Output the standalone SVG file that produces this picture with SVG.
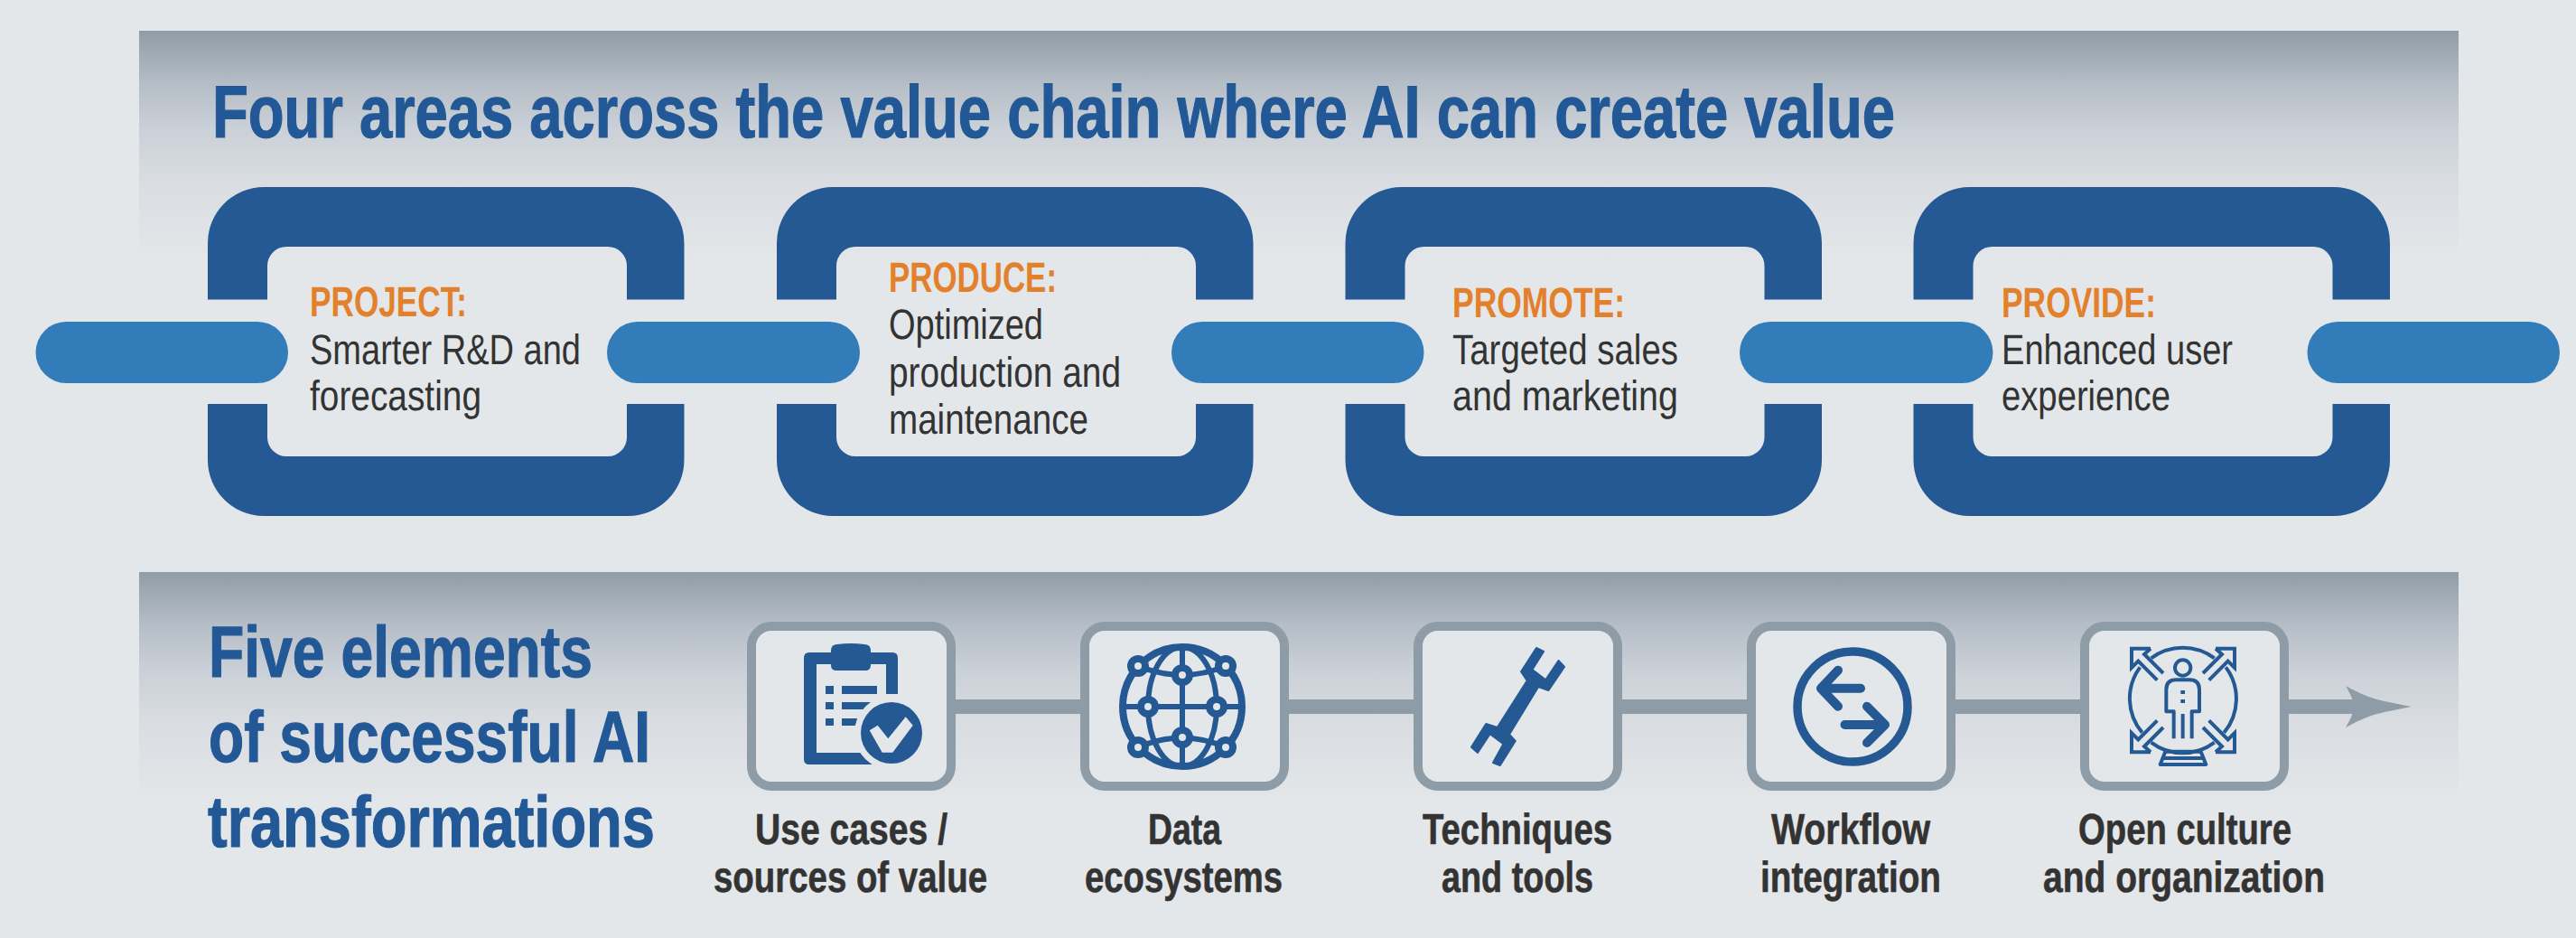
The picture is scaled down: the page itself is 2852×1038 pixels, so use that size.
<svg xmlns="http://www.w3.org/2000/svg" xmlns:xlink="http://www.w3.org/1999/xlink" width="2852" height="1038" viewBox="0 0 2852 1038">
<style>
text{font-family:"Liberation Sans",Arial,sans-serif;text-rendering:geometricPrecision}
.h1{font-size:82px;font-weight:700;fill:#225896;stroke:#225896;stroke-width:1.2px}
.h2{font-size:80px;font-weight:700;fill:#225896;stroke:#225896;stroke-width:1.2px}
.tag{font-size:47px;font-weight:700;fill:#e3802b}
.body{font-size:47px;fill:#333333}
.lab{font-size:48px;font-weight:700;fill:#333333;stroke:#333333;stroke-width:.6px}
.ring{fill:#245994}
.link{fill:#317cb9}
.box{fill:#e3e7ea;stroke:#8d9ca6;stroke-width:10}
.line{stroke:#8d9ca6;stroke-width:16;fill:none}
.ic{fill:#245994}
.bg{fill:#e3e7ea}
.st{fill:none;stroke:#245994}
</style>
<defs>
<linearGradient id="fade" x1="0" y1="0" x2="0" y2="1">
<stop offset="0" stop-color="#8f9da7"/>
<stop offset="0.22" stop-color="#b4bcc5"/>
<stop offset="0.42" stop-color="#cad0d7"/>
<stop offset="0.65" stop-color="#d9dde1"/>
<stop offset="1" stop-color="#e3e7ea"/>
</linearGradient>
<path id="chain" d="M230 331.500V269A62 62 0 0 1 292 207H695.500A62 62 0 0 1 757.500 269V331.500H694V294A21 21 0 0 0 673 273H317A21 21 0 0 0 296 294V331.500ZM230 447V509A62 62 0 0 0 292 571H695.500A62 62 0 0 0 757.500 509V447H694V484A21 21 0 0 1 673 505H317A21 21 0 0 1 296 484V447Z"/>
<marker id="head" markerUnits="userSpaceOnUse" viewBox="0 0 73 46" markerWidth="73" markerHeight="46" refX="9" refY="23" orient="auto">
<path d="M0 0Q23 13 43 17L72.500 23L43 29Q23 33 0 46Q9 31 9 23Q9 15 0 0Z" fill="#8d9ca6"/>
</marker>
</defs>
<rect width="2852" height="1038" fill="#e3e7ea"/>
<rect x="154" y="34" width="2568" height="256" fill="url(#fade)"/>
<rect x="154" y="633" width="2568" height="256" fill="url(#fade)"/>
<text class="h1" x="235" y="152" textLength="1863" lengthAdjust="spacingAndGlyphs">Four areas across the value chain where AI can create value</text>
<g class="h2-block">
<text class="h2" x="231" y="749" textLength="425" lengthAdjust="spacingAndGlyphs">Five elements</text>
<text class="h2" x="231" y="843" textLength="489" lengthAdjust="spacingAndGlyphs">of successful AI</text>
<text class="h2" x="230" y="937" textLength="495" lengthAdjust="spacingAndGlyphs">transformations</text>
</g>
<g id="connectors">
<rect class="link" x="39.500" y="356" width="279.500" height="68" rx="34"/>
<rect class="link" x="672" y="356" width="280" height="68" rx="34"/>
<rect class="link" x="1297" y="356" width="279.500" height="68" rx="34"/>
<rect class="link" x="1926" y="356" width="280.500" height="68" rx="34"/>
<rect class="link" x="2554.500" y="356" width="279.500" height="68" rx="34"/>
<path class="line" d="M1058 782H1196"/>
<path class="line" d="M1427 782H1565"/>
<path class="line" d="M1796 782H1934"/>
<path class="line" d="M2165 782H2303"/>
<path class="line" d="M2534 782H2606" marker-end="url(#head)"/>
</g>
<g id="project">
<use href="#chain" class="ring"/>
<text class="tag" x="343" y="350" textLength="174" lengthAdjust="spacingAndGlyphs">PROJECT:</text>
<text class="body" x="343" y="403" textLength="300" lengthAdjust="spacingAndGlyphs">Smarter R&amp;D and</text>
<text class="body" x="343" y="454" textLength="190" lengthAdjust="spacingAndGlyphs">forecasting</text>
</g>
<g id="produce">
<use href="#chain" class="ring" x="630"/>
<text class="tag" x="984" y="323" textLength="186" lengthAdjust="spacingAndGlyphs">PRODUCE:</text>
<text class="body" x="984" y="375" textLength="171" lengthAdjust="spacingAndGlyphs">Optimized</text>
<text class="body" x="984" y="428" textLength="257" lengthAdjust="spacingAndGlyphs">production and</text>
<text class="body" x="984" y="480" textLength="221" lengthAdjust="spacingAndGlyphs">maintenance</text>
</g>
<g id="promote">
<use href="#chain" class="ring" x="1259.500"/>
<text class="tag" x="1608" y="351" textLength="191" lengthAdjust="spacingAndGlyphs">PROMOTE:</text>
<text class="body" x="1608" y="403" textLength="250" lengthAdjust="spacingAndGlyphs">Targeted sales</text>
<text class="body" x="1608" y="454" textLength="250" lengthAdjust="spacingAndGlyphs">and marketing</text>
</g>
<g id="provide">
<use href="#chain" class="ring" x="1888.500"/>
<text class="tag" x="2216" y="351" textLength="171" lengthAdjust="spacingAndGlyphs">PROVIDE:</text>
<text class="body" x="2216" y="403" textLength="256" lengthAdjust="spacingAndGlyphs">Enhanced user</text>
<text class="body" x="2216" y="454" textLength="187" lengthAdjust="spacingAndGlyphs">experience</text>
</g>
<g id="use-cases">
<rect class="box" x="832" y="693" width="221" height="177" rx="22"/>
<path class="ic" fill-rule="evenodd" d="M896 722H920V720Q920 713 927 713Q942 711 957 713Q964 713 964 720V722H988Q994 722 994 728V768H981V735H964V736Q964 742 958 742H926Q920 742 920 736V735H904V833H975V846H896Q890 846 890 840V728Q890 722 896 722Z"/>
<path class="ic" d="M914 759h9v9h-9zM914 777h9v8h-9zM914 795h9v8h-9zM932 759h39v9h-39zM932 777h35v8h-35zM932 795h30v8h-30z"/>
<circle class="bg" cx="987" cy="811" r="41"/>
<circle class="ic" cx="987" cy="811" r="34"/>
<path class="bg" d="M962.700 808.300L971.700 802.700L983.300 817.300L1002.700 793.300L1010.700 802.700L988.300 832.700H976.700Z"/>
<text class="lab" x="836" y="934" textLength="213" lengthAdjust="spacingAndGlyphs">Use cases /</text>
<text class="lab" x="790" y="987" textLength="303" lengthAdjust="spacingAndGlyphs">sources of value</text>
</g>
<g id="data">
<rect class="box" x="1201" y="693" width="221" height="177" rx="22"/>
<g class="st" stroke-width="6">
<circle cx="1309" cy="782" r="66" stroke-width="8"/>
<ellipse cx="1309" cy="782" rx="38" ry="66"/>
<path d="M1309 716V848M1243 782H1375M1260 737Q1309 757 1357 737M1260 827Q1309 806 1357 827"/>
</g>
<g fill="#e3e7ea" stroke="#245994" stroke-width="8">
<circle cx="1309" cy="747" r="8"/><circle cx="1309" cy="816" r="8"/>
<circle cx="1271" cy="782" r="8"/><circle cx="1347" cy="782" r="8"/>
<circle cx="1260" cy="737" r="8"/><circle cx="1357" cy="737" r="8"/>
<circle cx="1260" cy="827" r="8"/><circle cx="1357" cy="827" r="8"/>
</g>
<text class="lab" x="1271" y="934" textLength="81" lengthAdjust="spacingAndGlyphs">Data</text>
<text class="lab" x="1201" y="987" textLength="219" lengthAdjust="spacingAndGlyphs">ecosystems</text>
</g>
<g id="techniques">
<rect class="box" x="1570" y="693" width="221" height="177" rx="22"/>
<path class="ic" stroke="#245994" stroke-width="2" stroke-linejoin="round" d="M1701 717L1709 721L1696.500 741L1711.300 752.300L1725.500 731L1732 738L1714.400 764L1703.200 760L1671 812.700L1677.700 820L1660.800 847L1653 844L1664.400 823.300L1649.600 812.300L1636 833L1629 826.700L1645.200 801L1657.700 805L1690.700 753.300L1684 743.300Z"/>
<text class="lab" x="1575" y="934" textLength="210" lengthAdjust="spacingAndGlyphs">Techniques</text>
<text class="lab" x="1596" y="987" textLength="168" lengthAdjust="spacingAndGlyphs">and tools</text>
</g>
<g id="workflow">
<rect class="box" x="1939" y="693" width="221" height="177" rx="22"/>
<circle class="st" cx="2051" cy="782" r="61" stroke-width="9.500"/>
<path class="st" stroke-width="10" stroke-linecap="round" stroke-linejoin="round" d="M2060 761.700H2016M2035 741.700L2016 761.700L2035 781.700M2042.500 802H2087M2067 781.700L2087 802L2067 822"/>
<text class="lab" x="1961" y="934" textLength="176" lengthAdjust="spacingAndGlyphs">Workflow</text>
<text class="lab" x="1949" y="987" textLength="200" lengthAdjust="spacingAndGlyphs">integration</text>
</g>
<g id="open-culture">
<rect class="box" x="2308" y="693" width="221" height="177" rx="22"/>
<g transform="translate(2280 680) scale(.33333)" class="st" stroke-width="12">
<path d="M305 145A175 175 0 0 1 515 145M268 175A175 175 0 0 0 275 392M553 175A175 175 0 0 1 547 392M305 425A175 175 0 0 0 515 425"/>
<circle cx="410" cy="177" r="26"/>
<path stroke-linejoin="round" d="M380 412V322H355V250Q355 217 388 217H432Q465 217 465 250V322H440V412M410 330V412"/>
<path d="M410 252V264M410 282V294" stroke-width="14"/>
<path stroke-linejoin="round" d="M352 455H470L487 498H335ZM345 477H477"/>
<path stroke-linejoin="miter" d="M303 113H240V177L262 155L325 218M345 195L282 132L303 113"/>
<path stroke-linejoin="miter" d="M519 113H582V177L560 155L497 218M477 195L540 132L519 113"/>
<path stroke-linejoin="miter" d="M303 457H240V393L262 415L325 352M345 375L282 438L303 457"/>
<path stroke-linejoin="miter" d="M519 457H582V393L560 415L497 352M477 375L540 438L519 457"/>
</g>
<text class="lab" x="2301" y="934" textLength="236" lengthAdjust="spacingAndGlyphs">Open culture</text>
<text class="lab" x="2262" y="987" textLength="312" lengthAdjust="spacingAndGlyphs">and organization</text>
</g>
</svg>
